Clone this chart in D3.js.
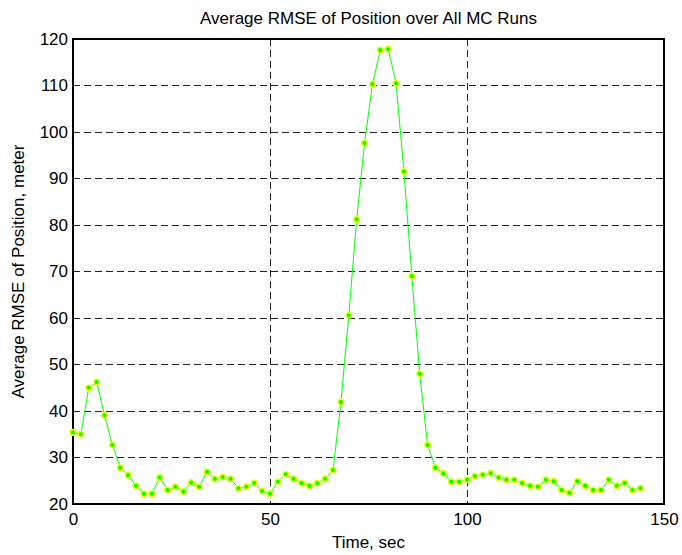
<!DOCTYPE html>
<html>
<head>
<meta charset="utf-8">
<script src="https://cdn.jsdelivr.net/npm/d3@7"></script>
<style>
  body { margin: 0; background: #fff; }
  svg text { font-family: "Liberation Sans", Arial, Helvetica, sans-serif; fill: #000; }
</style>
</head>
<body>
<svg id="chart" width="682" height="555"></svg>
<script>
// time stamps (sec) and average RMSE (meter)
const timeSec = [0, 2, 4, 6, 8, 10, 12, 14, 16, 18, 20, 22, 24, 26, 28, 30, 32, 34, 36, 38,
    40, 42, 44, 46, 48, 50, 52, 54, 56, 58, 60, 62, 64, 66, 68, 70, 72, 74, 76, 78,
    80, 82, 84, 86, 88, 90, 92, 94, 96, 98, 100, 102, 104, 106, 108, 110, 112, 114, 116, 118,
    120, 122, 124, 126, 128, 130, 132, 134, 136, 138, 140, 142, 144];
const rmse = [35.4, 35.0, 45.0, 46.2, 39.1, 32.7, 27.8, 26.2, 23.9, 22.2, 22.2, 25.7, 23.0, 23.7, 22.7, 24.6, 23.7, 26.9, 25.4, 25.8,
    25.4, 23.4, 23.7, 24.5, 22.8, 22.2, 24.8, 26.4, 25.4, 24.5, 23.9, 24.5, 25.4, 27.3, 41.9, 60.6, 81.2, 97.6, 110.3, 117.6,
    117.8, 110.5, 91.5, 69.0, 48.0, 32.7, 27.8, 26.6, 24.8, 24.8, 25.2, 26.0, 26.3, 26.6, 25.7, 25.2, 25.2, 24.5, 23.9, 23.7,
    25.2, 24.9, 23.0, 22.4, 24.9, 23.9, 23.0, 23.0, 25.2, 23.9, 24.5, 23.0, 23.4];
const xTicks = [0, 50, 100, 150];
const yTicks = [20, 30, 40, 50, 60, 70, 80, 90, 100, 110, 120];

const svg = d3.select("#chart");
const margin = {top: 39, right: 18, bottom: 51, left: 73};
const width = 682 - margin.left - margin.right;
const height = 555 - margin.top - margin.bottom;
const fontSize = 17;

const x = d3.scaleLinear().domain([0, 150]).range([0, width]);
const y = d3.scaleLinear().domain([20, 120]).range([height, 0]);

const g = svg.append("g").attr("transform", `translate(${margin.left},${margin.top})`);

// grid (dashed, matlab style)
g.append("g").selectAll("line")
    .data(yTicks.slice(1, -1))
    .join("line")
    .attr("x1", 0).attr("x2", width)
    .attr("y1", d => y(d)).attr("y2", d => y(d))
    .attr("stroke", "#222").attr("stroke-width", 1)
    .attr("stroke-dasharray", "7,4")
    .attr("shape-rendering", "crispEdges");
g.append("g").selectAll("line")
    .data(xTicks.slice(1, -1))
    .join("line")
    .attr("y1", 0).attr("y2", height)
    .attr("x1", d => x(d)).attr("x2", d => x(d))
    .attr("stroke", "#222").attr("stroke-width", 1)
    .attr("stroke-dasharray", "7,4")
    .attr("shape-rendering", "crispEdges");

// axes, tick labels only
const xAxis = g.append("g")
    .attr("transform", `translate(0,${height})`)
    .call(d3.axisBottom(x).tickValues(xTicks).tickSize(0).tickPadding(9));
const yAxis = g.append("g")
    .call(d3.axisLeft(y).tickValues(yTicks).tickSize(0).tickPadding(5));
[xAxis, yAxis].forEach(a => {
    a.select(".domain").remove();
    a.selectAll("text").style("font-size", fontSize + "px")
        .style("font-family", "'Liberation Sans', Arial, sans-serif").attr("fill", "#000");
});

// box
g.append("rect")
    .attr("x", 0).attr("y", 0).attr("width", width).attr("height", height)
    .attr("fill", "none").attr("stroke", "#000").attr("stroke-width", 1.2)
    .attr("shape-rendering", "crispEdges");

// data line + markers
const pts = timeSec.map((t, i) => [t, rmse[i]]);
g.append("path")
    .datum(pts)
    .attr("fill", "none")
    .attr("stroke", "#00ff00")
    .attr("stroke-width", 1)
    .attr("d", d3.line().x(d => x(d[0])).y(d => y(d[1])));
g.append("g").selectAll("circle")
    .data(pts)
    .join("circle")
    .attr("cx", d => x(d[0]))
    .attr("cy", d => y(d[1]))
    .attr("r", 2.8)
    .attr("fill", "#00ff00")
    .attr("stroke", "#eeff00")
    .attr("stroke-width", 1.5);

// title and labels
svg.append("text")
    .attr("x", margin.left + width / 2).attr("y", 24)
    .attr("text-anchor", "middle").style("font-size", fontSize + "px")
    .text("Average RMSE of Position over All MC Runs");
svg.append("text")
    .attr("x", margin.left + width / 2).attr("y", 548)
    .attr("text-anchor", "middle").style("font-size", fontSize + "px")
    .text("Time, sec");
svg.append("text")
    .attr("transform", `translate(24,${margin.top + height / 2}) rotate(-90)`)
    .attr("text-anchor", "middle").style("font-size", fontSize + "px")
    .text("Average RMSE of Position, meter");
</script>
</body>
</html>
